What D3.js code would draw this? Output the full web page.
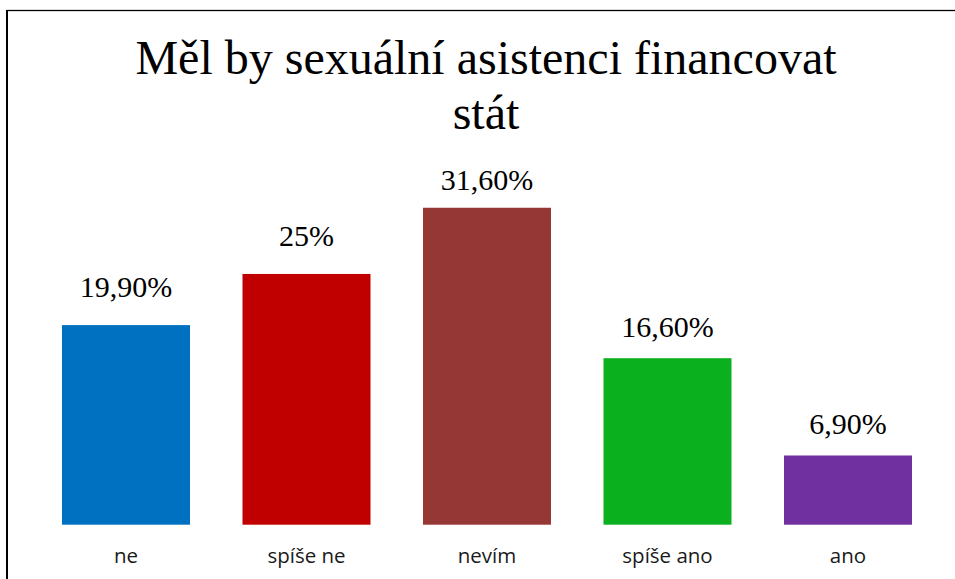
<!DOCTYPE html>
<html>
<head>
<meta charset="utf-8">
<script src="https://cdn.jsdelivr.net/npm/d3@7"></script>
<style>
  html, body { margin: 0; padding: 0; background: #fff; }
  svg { display: block; }
</style>
</head>
<body>
<svg id="chart" width="955" height="579"></svg>
<script>
// Survey answers and their shares (%)
const categories = ["ne", "spíše ne", "nevím", "spíše ano", "ano"];
const values = [19.9, 25, 31.6, 16.6, 6.9];
const valueLabels = ["19,90%", "25%", "31,60%", "16,60%", "6,90%"];
const colors = ["#0070C0", "#C00000", "#953735", "#0BB01F", "#7030A0"];
const titleLines = ["Měl by sexuální asistenci financovat", "stát"];

// Distance between a bar top and its label baseline
const labelLift = [28, 28, 18, 21, 21];

const W = 955, H = 579;
const svg = d3.select("#chart");

// Frame of the chart area
svg.append("rect")
  .attr("x", 7).attr("y", 10.5)
  .attr("width", 1000).attr("height", 1000)
  .attr("fill", "none")
  .attr("stroke", "#000")
  .attr("stroke-width", 1.3);
svg.append("line")
  .attr("x1", 7).attr("x2", 7).attr("y1", 10).attr("y2", H)
  .attr("stroke", "#000").attr("stroke-width", 2);

// Title
svg.append("g")
  .selectAll("text")
  .data(titleLines)
  .join("text")
  .attr("x", 486)
  .attr("y", (d, i) => 74 + i * 54.5)
  .attr("text-anchor", "middle")
  .attr("font-family", "'Liberation Serif', 'Times New Roman', serif")
  .attr("font-size", 48)
  .attr("fill", "#000")
  .text(d => d);

// Scales
const x = d3.scaleBand()
  .domain(categories)
  .range([35.75, 938.25])
  .paddingInner(0.2909)
  .paddingOuter(0.1454);

const y = d3.scaleLinear()
  .domain([0, 35])
  .range([524.7, 524.7 - 35 * 10.03]);

// Bars
svg.append("g")
  .selectAll("rect")
  .data(values)
  .join("rect")
  .attr("x", (d, i) => x(categories[i]))
  .attr("y", d => y(d))
  .attr("width", x.bandwidth())
  .attr("height", d => y(0) - y(d))
  .attr("fill", (d, i) => colors[i]);

// Value labels
svg.append("g")
  .selectAll("text")
  .data(values)
  .join("text")
  .attr("x", (d, i) => x(categories[i]) + x.bandwidth() / 2)
  .attr("y", (d, i) => y(d) - labelLift[i])
  .attr("text-anchor", "middle")
  .attr("font-family", "'Liberation Serif', 'Times New Roman', serif")
  .attr("font-size", 30)
  .attr("fill", "#000")
  .text((d, i) => valueLabels[i]);

// Category axis (no line, no ticks)
const xAxis = svg.append("g")
  .attr("transform", `translate(0, ${y(0)})`)
  .call(d3.axisBottom(x).tickSize(0).tickPadding(0));
xAxis.select(".domain").remove();
xAxis.selectAll("text")
  .attr("y", 38.5)
  .attr("dy", null)
  .attr("font-family", "'Open Sans', 'Liberation Sans', sans-serif")
  .attr("font-size", 20.5)
  .attr("fill", "#1a1a1a");
</script>
</body>
</html>
